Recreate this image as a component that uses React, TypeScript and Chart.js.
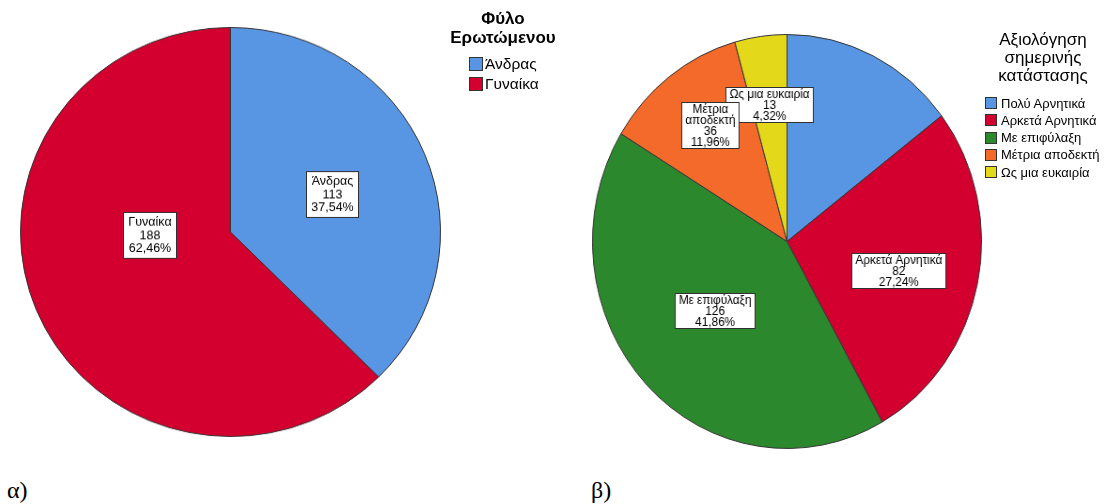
import React, { useEffect, useRef } from "react";
import { Chart, registerables } from "chart.js";

Chart.register(...registerables);

// ---- Data ----
const genderLabels = ["Άνδρας", "Γυναίκα"];
const genderValues = [113, 188];
const genderColors = ["#5895e2", "#d3002f"];
const genderSliceNames: (string | null)[] = ["Άνδρας", "Γυναίκα"];

const ratingLabels = ["Πολύ Αρνητικά", "Αρκετά Αρνητικά", "Με επιφύλαξη", "Μέτρια αποδεκτή", "Ως μια ευκαιρία"];
const ratingValues = [44, 82, 126, 36, 13];
const ratingColors = ["#5895e2", "#d3002f", "#2c882c", "#f36a2b", "#e4d81b"];
const ratingSliceNames: (string | null)[] = [null, "Αρκετά Αρνητικά", "Με επιφύλαξη", "Μέτρια\nαποδεκτή", "Ως μια ευκαιρία"];

const FONT = '"Liberation Sans", Arial, sans-serif';

type LabelOpts = {
  names: (string | null)[];
  radius: number[];
  angleShift: number[];
  fontSize: number;
  lineHeight: number;
  padX: number;
  padY: number;
};

function makeLabelPlugin(opts: LabelOpts) {
  return {
    id: "sliceLabels",
    afterDatasetsDraw(chart: any) {
      const ctx: CanvasRenderingContext2D = chart.ctx;
      const meta = chart.getDatasetMeta(0);
      const data = chart.data.datasets[0].data as number[];
      const total = data.reduce((a, b) => a + b, 0);
      ctx.save();
      ctx.font = `${opts.fontSize}px ${FONT}`;
      ctx.textAlign = "center";
      ctx.textBaseline = "middle";
      const order = meta.data.map((_: any, i: number) => i).reverse();
      for (const i of order) {
        const name = opts.names[i];
        if (!name) continue;
        const arc = meta.data[i];
        const { x, y, startAngle, endAngle, outerRadius } = arc.getProps(
          ["x", "y", "startAngle", "endAngle", "outerRadius"],
          true
        );
        const mid = (startAngle + endAngle) / 2 + ((opts.angleShift[i] || 0) * Math.PI) / 180;
        const r = outerRadius * opts.radius[i];
        const cx = x + Math.cos(mid) * r;
        const cy = y + Math.sin(mid) * r;
        const lines = [
          ...name.split("\n"),
          String(data[i]),
          ((data[i] / total) * 100).toFixed(2).replace(".", ",") + "%",
        ];
        const w = Math.round(Math.max(...lines.map((l) => ctx.measureText(l).width)) + 2 * opts.padX);
        const h = Math.round(lines.length * opts.lineHeight + 2 * opts.padY);
        const bx = Math.round(cx - w / 2) + 0.5;
        const by = Math.round(cy - h / 2) + 0.5;
        ctx.fillStyle = "#ffffff";
        ctx.fillRect(bx, by, w, h);
        ctx.strokeStyle = "#303030";
        ctx.lineWidth = 1;
        ctx.strokeRect(bx, by, w, h);
        ctx.fillStyle = "#000000";
        lines.forEach((l, k) => ctx.fillText(l, bx + w / 2, by + opts.padY + opts.lineHeight * (k + 0.5) + 0.5));
      }
      ctx.restore();
    },
  };
}

function PieChart(props: {
  labels: string[];
  values: number[];
  colors: string[];
  size: number;
  left: number;
  top: number;
  transform: string;
  labelOpts: LabelOpts;
}) {
  const ref = useRef<HTMLCanvasElement | null>(null);
  useEffect(() => {
    if (!ref.current) return;
    const chart = new Chart(ref.current, {
      type: "pie",
      data: {
        labels: props.labels,
        datasets: [
          {
            data: props.values,
            backgroundColor: props.colors,
            borderColor: "#353535",
            borderWidth: 1,
          },
        ],
      },
      options: {
        animation: false,
        responsive: false,
        devicePixelRatio: 1,
        layout: { padding: 0 },
        events: [],
        plugins: {
          legend: { display: false },
          tooltip: { enabled: false },
          title: { display: false },
        },
      },
      plugins: [makeLabelPlugin(props.labelOpts)],
    } as any);
    return () => chart.destroy();
  }, []);
  return (
    <div
      style={{
        position: "absolute",
        left: props.left,
        top: props.top,
        width: props.size,
        height: props.size,
        transform: props.transform,
        transformOrigin: "0 0",
      }}
    >
      <canvas ref={ref} width={props.size} height={props.size} />
    </div>
  );
}

function LegendBox(props: { color: string; size: number }) {
  return (
    <span
      style={{
        display: "inline-block",
        width: props.size,
        height: props.size,
        boxSizing: "border-box",
        background: props.color,
        border: "1px solid #333",
        verticalAlign: "middle",
      }}
    />
  );
}

export default function App() {
  return (
    <div
      style={{
        position: "fixed",
        left: 0,
        top: 0,
        width: 1109,
        height: 504,
        background: "#ffffff",
        overflow: "hidden",
        fontFamily: FONT,
        color: "#000",
      }}
    >
      <PieChart
        labels={genderLabels}
        values={genderValues}
        colors={genderColors}
        size={421}
        left={20}
        top={27}
        transform={`scale(1, ${410 / 421})`}
        labelOpts={{
          names: genderSliceNames,
          radius: [0.52, 0.385],
          angleShift: [1.3, 20],
          fontSize: 12.5,
          lineHeight: 13.5,
          padX: 5,
          padY: 3,
        }}
      />
      <PieChart
        labels={ratingLabels}
        values={ratingValues}
        colors={ratingColors}
        size={415}
        left={592}
        top={34}
        transform={`scale(${390 / 415}, 1)`}
        labelOpts={{
          names: ratingSliceNames,
          radius: [0, 0.59, 0.5, 0.69, 0.67],
          angleShift: [0, 2, 2, 2, 0],
          fontSize: 12.5,
          lineHeight: 10.8,
          padX: 4,
          padY: 1.5,
        }}
      />

      {/* Left legend */}
      <div
        style={{
          position: "absolute",
          left: 403,
          top: 9,
          width: 200,
          textAlign: "center",
          fontWeight: "bold",
          fontSize: 17,
          lineHeight: "19px",
        }}
      >
        <div>Φύλο</div>
        <div>Ερωτώμενου</div>
      </div>
      {genderLabels.map((l, i) => (
        <div
          key={l}
          style={{
            position: "absolute",
            left: 469,
            top: 57 + i * 20,
            height: 14,
            display: "flex",
            alignItems: "center",
            fontSize: 15.5,
            whiteSpace: "nowrap",
          }}
        >
          <LegendBox color={genderColors[i]} size={14} />
          <span style={{ marginLeft: 2 }}>{l}</span>
        </div>
      ))}

      {/* Right legend */}
      <div
        style={{
          position: "absolute",
          left: 963,
          top: 31,
          width: 160,
          textAlign: "center",
          fontSize: 17,
          lineHeight: "18px",
        }}
      >
        <div>Αξιολόγηση</div>
        <div>σημερινής</div>
        <div>κατάστασης</div>
      </div>
      {ratingLabels.map((l, i) => (
        <div
          key={l}
          style={{
            position: "absolute",
            left: 985,
            top: 97 + i * 17.3,
            height: 12,
            display: "flex",
            alignItems: "center",
            fontSize: 13,
            whiteSpace: "nowrap",
          }}
        >
          <LegendBox color={ratingColors[i]} size={12} />
          <span style={{ marginLeft: 4 }}>{l}</span>
        </div>
      ))}

      {/* Captions */}
      <div
        style={{
          position: "absolute",
          left: 7,
          top: 476,
          fontFamily: '"Liberation Serif", "Times New Roman", serif',
          fontSize: 24,
          lineHeight: "28px",
        }}
      >
        α)
      </div>
      <div
        style={{
          position: "absolute",
          left: 591,
          top: 476,
          fontFamily: '"Liberation Serif", "Times New Roman", serif',
          fontSize: 24,
          lineHeight: "28px",
        }}
      >
        β)
      </div>
    </div>
  );
}
